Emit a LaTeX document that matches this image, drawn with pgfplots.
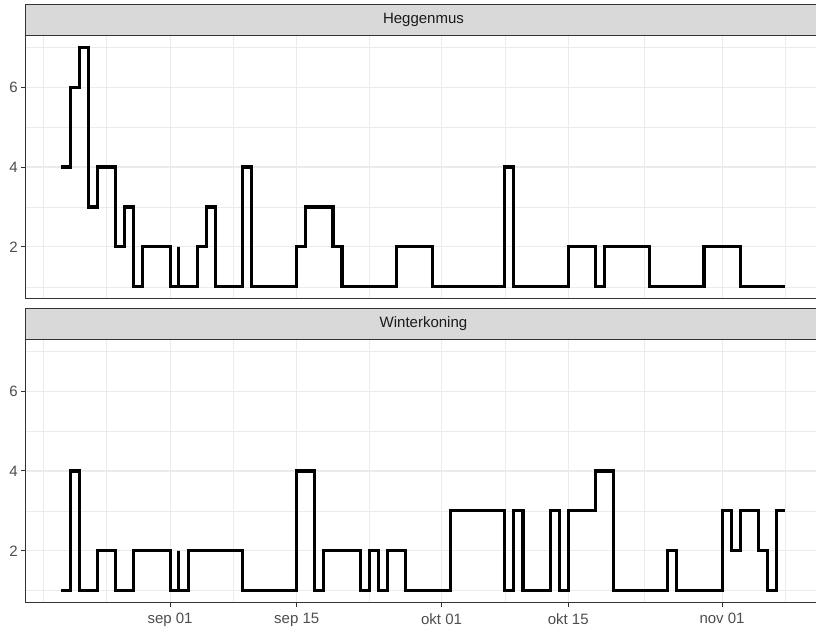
\documentclass[border=0pt]{standalone}
\usepackage{fontspec}
\setmainfont{Liberation Sans}
\usepackage{pgfplots}
\usepackage{pgfplotstable}
\pgfplotsset{compat=1.18}
\definecolor{gridc}{HTML}{EBEBEB}
\definecolor{stripfill}{HTML}{D9D9D9}
\definecolor{borderc}{HTML}{333333}
\definecolor{labc}{HTML}{4D4D4D}
\definecolor{stripc}{HTML}{1A1A1A}

% day 0 = sep 01
\pgfplotstableread{
day val
-12 4
-11 6
-10 7
-9 3
-8 4
-6 2
-5 3
-4 1
-3 2
0 1
0.9 2
0.9 1
3 2
4 3
5 1
8 4
9 1
14 2
15 3
18 2
19 1
25 2
29 1
37 4
38 1
44 2
47 1
48 2
53 1
59 2
63 1
68 1
}\heggen

\pgfplotstableread{
day val
-12 1
-11 4
-10 1
-8 2
-6 1
-4 2
0 1
0.9 2
0.9 1
2 2
8 1
14 4
16 1
17 2
21 1
22 2
23 1
24 2
26 1
31 3
37 1
38 3
39 1
42 3
43 1
44 3
47 4
49 1
55 2
56 1
61 3
62 2
63 3
65 2
66 1
67 3
68 3
}\winter

\pgfplotsset{panel/.style={
  scale only axis, width=796.3pt, height=263.5pt,
  anchor=south west,
  xmin=-16, xmax=72, ymin=0.7, ymax=7.3,
  axis line style={borderc, line width=1pt},
  tick align=outside, tick pos=left,
  major tick length=4pt, minor tick length=0pt,
  tick style={borderc, line width=1pt},
  ytick={2,4,6}, minor ytick={1,3,5,7},
  xtick={0,14,30,44,61}, minor xtick={-14,-7,7,22,37,52.4,68},
  grid=both,
  major grid style={gridc, line width=1.1pt},
  minor grid style={gridc, line width=0.55pt},
  ticklabel style={font=\fontsize{15}{18}\selectfont, text=labc},
  xticklabel style={inner sep=0pt, yshift=-6.4pt},
  /pgf/number format/assume math mode=true,
  step/.style={black, line width=3.1pt, const plot, line join=miter},
}}

\begin{document}
\begin{tikzpicture}[x=1pt,y=1pt]
\begin{axis}[panel, at={(25.3pt,335.2pt)}, xticklabels={}, xmajorticks=false]
  \addplot[step] table[x=day,y=val] {\heggen};
\end{axis}
\begin{axis}[panel, at={(25.3pt,31.3pt)},
  xticklabels={sep 01, sep 15, okt 01, okt 15, nov 01}]
  \addplot[step] table[x=day,y=val] {\winter};
\end{axis}
\draw[fill=stripfill, draw=borderc, line width=1pt] (25.3,598.7) rectangle (821.6,629.3);
\node[text=stripc, font=\fontsize{15}{18}\selectfont] at (423.45,614) {Heggenmus};
\draw[fill=stripfill, draw=borderc, line width=1pt] (25.3,294.8) rectangle (821.6,325.2);
\node[text=stripc, font=\fontsize{15}{18}\selectfont] at (423.45,310) {Winterkoning};
\pgfresetboundingbox
\useasboundingbox (0,0) rectangle (816,634);
\end{tikzpicture}
\end{document}
